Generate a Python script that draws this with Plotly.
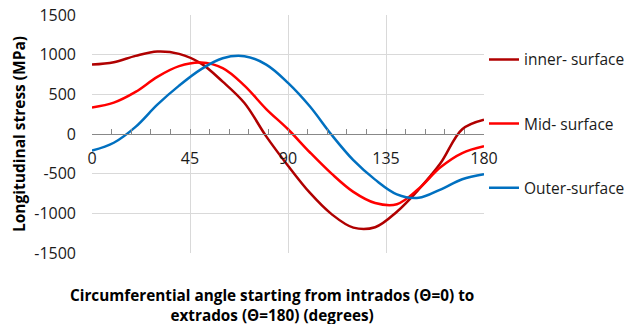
import plotly.graph_objects as go

angles = [0, 10, 20, 30, 40, 50, 60, 70, 80, 90, 100, 110, 120, 130, 140, 150, 160, 170, 180]
inner = [875, 905, 985, 1040, 1010, 890, 660, 390, -30, -400, -740, -1010, -1180, -1175, -980, -700, -370, 60, 180]
mid = [335, 395, 530, 720, 855, 900, 830, 610, 315, 60, -230, -500, -730, -870, -885, -690, -420, -240, -155]
outer = [-210, -110, 90, 370, 610, 815, 955, 980, 875, 645, 350, -10, -330, -575, -760, -805, -700, -570, -508]

names = ["inner- surface", "Mid- surface", "Outer-surface"]
colors = ["#B00000", "#FF0000", "#0070C0"]
x_ticks = [0, 45, 90, 135, 180]
y_ticks = [-1500, -1000, -500, 0, 500, 1000, 1500]

fig = go.Figure()
for i, (name, ys, col) in enumerate(zip(names, [inner, mid, outer], colors)):
    fig.add_trace(go.Scatter(
        x=angles, y=ys, name=name, mode="lines",
        line=dict(color=col, width=2.5, shape="spline", smoothing=1.0),
        legendgroup=f"g{i}",
    ))

font_main = "Open Sans, Liberation Sans, sans-serif"

fig.update_layout(
    width=633, height=324,
    margin=dict(l=92, r=149, t=15, b=71, autoexpand=False),
    paper_bgcolor="white", plot_bgcolor="white",
    font=dict(family=font_main, size=13, color="#1a1a1a"),
    showlegend=True,
    legend=dict(
        x=1.0, y=0.883, xanchor="left", yanchor="top",
        font=dict(size=15.5, color="#1a1a1a"),
        tracegroupgap=41, itemwidth=30,
        bgcolor="rgba(0,0,0,0)",
    ),
    xaxis=dict(
        range=[0, 180], tickvals=x_ticks, ticktext=[str(v) for v in x_ticks],
        showgrid=True, gridcolor="#d9d9d9", gridwidth=1,
        zeroline=False,
        showline=True, linecolor="#888888", linewidth=1,
        anchor="free", position=0.5,
        ticks="inside", ticklen=5, tickcolor="#888888",
        minor=dict(dtick=9, ticks="inside", ticklen=5, tickcolor="#888888", showgrid=False),
        tickfont=dict(size=16, color="#1a1a1a"),
        ticklabelstandoff=10,
    ),
    yaxis=dict(
        range=[-1500, 1500], tickvals=y_ticks, ticktext=[str(v) for v in y_ticks],
        showgrid=True, gridcolor="#d9d9d9", gridwidth=1,
        zeroline=False, showline=False,
        tickfont=dict(size=16, color="#1a1a1a"),
        ticks="", ticklabelstandoff=15,
        title=dict(text="<b>Longitudinal stress (MPa)</b>", font=dict(size=15.5, color="#000000"), standoff=4),
    ),
)

fig.add_annotation(
    text="<b>Circumferential angle starting from intrados (Θ=0) to<br>extrados (Θ=180) (degrees)</b>",
    xref="paper", yref="paper", x=0.459, y=-0.125, xanchor="center", yanchor="top",
    showarrow=False, font=dict(size=15.3, color="#000000"), align="center",
)

fig.write_html("out.html")
